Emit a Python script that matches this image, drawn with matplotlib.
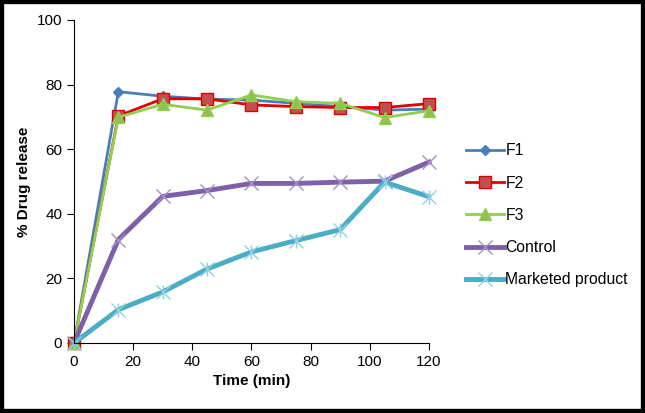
import matplotlib.pyplot as plt
from matplotlib.patches import Rectangle

plt.rcParams['font.family'] = ['Liberation Sans', 'DejaVu Sans']

time = [0, 15, 30, 45, 60, 75, 90, 105, 120]
f1 = [0, 77.8, 76.4, 75.5, 75.2, 74.2, 73.2, 72.1, 72.4]
f2 = [0, 70.3, 75.6, 75.6, 73.7, 73.2, 72.9, 72.9, 74.1]
f3 = [0, 69.9, 73.9, 72.1, 76.8, 74.7, 74.2, 69.8, 71.9]
control = [0, 32.0, 45.4, 47.2, 49.4, 49.4, 49.8, 50.1, 56.0]
marketed = [0, 10.3, 15.8, 22.9, 28.2, 31.7, 35.1, 49.8, 45.3]

fig = plt.figure(figsize=(6.45, 4.13), dpi=100)
ax = fig.add_axes([0.1147, 0.1695, 0.5503, 0.7821])

ax.plot(time, f1, color='#4A7EBB', lw=2, marker='D', ms=5, mfc='#4A7EBB', mec='#4A7EBB', label='F1')
ax.plot(time, f2, color='#E00000', lw=2, marker='s', ms=8, mfc='#C0504D', mec='#E00000', label='F2')
ax.plot(time, f3, color='#8FD14F', lw=2, marker='^', ms=8, mfc='#8FC050', mec='#8FD14F', label='F3')
ax.plot(time, control, color='#7F5FA8', lw=3.5, marker='x', ms=10, mew=1.0, mec='#A090C8', label='Control')
ax.plot(time, marketed, color='#4BACC6', lw=3.5, marker='x', ms=10, mew=1.0, mec='#90D0E0', label='Marketed product')
ax.plot(time, marketed, ls='none', marker='|', ms=10, mew=1.0, mec='#90D0E0')

ax.set_xlim(0, 120)
ax.set_ylim(0, 100)
ax.set_xticks(range(0, 121, 20))
ax.set_yticks(range(0, 101, 20))
ax.spines['top'].set_visible(False)
ax.spines['right'].set_visible(False)
ax.tick_params(direction='out', length=5, labelsize=11)
ax.set_xlabel('Time (min)', fontsize=11, fontweight='bold')
ax.set_ylabel('% Drug release', fontsize=11, fontweight='bold')
for c in ax.get_children():
    if hasattr(c, 'set_clip_on'):
        c.set_clip_on(False)

ax.legend(loc='center left', bbox_to_anchor=(1.065, 0.395), frameon=False,
          fontsize=11.3, handlelength=2.4, labelspacing=1.1, handletextpad=0.1)

fig.patches.append(Rectangle((0, 0), 1, 1, transform=fig.transFigure,
                             fill=False, edgecolor='black', lw=6))

plt.savefig('out.png', dpi=100)
